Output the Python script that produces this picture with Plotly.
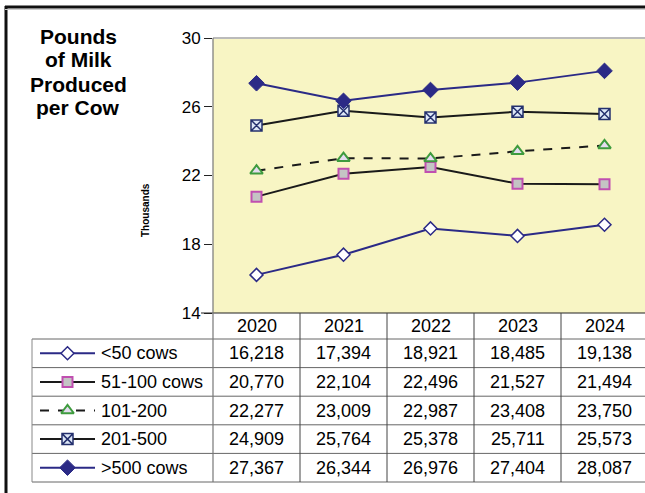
import plotly.graph_objects as go

years = ["2020", "2021", "2022", "2023", "2024"]
series_names = ["<50 cows", "51-100 cows", "101-200", "201-500", ">500 cows"]
lt50 = [16218, 17394, 18921, 18485, 19138]
c51_100 = [20770, 22104, 22496, 21527, 21494]
c101_200 = [22277, 23009, 22987, 23408, 23750]
c201_500 = [24909, 25764, 25378, 25711, 25573]
gt500 = [27367, 26344, 26976, 27404, 28087]
y_ticks = [14, 18, 22, 26, 30]

series_values = [lt50, c51_100, c101_200, c201_500, gt500]

W, H = 645, 493
def X(px):
    return px / W
def Y(py):
    return 1 - py / H

NAVY = "#2B2A86"
styles = [
    dict(line=dict(color=NAVY, width=2), marker=dict(symbol="diamond", size=10, color="white", line=dict(color=NAVY, width=1.5))),
    dict(line=dict(color="#1a1a1a", width=2), marker=dict(symbol="square", size=10, color="#C4C4C4", line=dict(color="#C04FB0", width=2))),
    dict(line=dict(color="#1a1a1a", width=2, dash="dash"), marker=dict(symbol="triangle-up", size=11, color="#E4DCF0", line=dict(color="#3E9B3E", width=2))),
    dict(line=dict(color="#1a1a1a", width=2), marker=dict(symbol="square-x", size=11, color="#DDE7F7", line=dict(color="#24306E", width=1.5))),
    dict(line=dict(color=NAVY, width=2), marker=dict(symbol="diamond", size=12, color=NAVY, line=dict(color=NAVY, width=1))),
]

fig = go.Figure()
xs = list(range(len(years)))
for name, vals, st in zip(series_names, series_values, styles):
    fig.add_trace(go.Scatter(x=xs, y=[v / 1000 for v in vals], mode="lines+markers", name=name,
                             line=st["line"], marker=st["marker"], cliponaxis=False, showlegend=False,
                             xaxis="x", yaxis="y"))

# legend samples inside the table's first column
for i, (name, st) in enumerate(zip(series_names, styles)):
    fig.add_trace(go.Scatter(x=[0, 2], y=[i, i], mode="lines", line=st["line"], showlegend=False,
                             xaxis="x2", yaxis="y2", cliponaxis=False))
    fig.add_trace(go.Scatter(x=[1], y=[i], mode="markers", marker=st["marker"], showlegend=False,
                             xaxis="x2", yaxis="y2", cliponaxis=False))

FONT = "Liberation Sans, Arial, sans-serif"
ann = []
for txt, py in zip(["Pounds", "of Milk", "Produced", "per Cow"], [36, 60, 84, 108]):
    ann.append(dict(text="<b>%s</b>" % txt, x=X(78), y=Y(py), xref="paper", yref="paper",
                    showarrow=False, font=dict(family=FONT, size=21, color="black"),
                    xanchor="center", yanchor="middle"))
ann.append(dict(text="<b>Thousands</b>", x=X(145), y=Y(210), xref="paper", yref="paper",
                showarrow=False, textangle=-90, font=dict(family=FONT, size=10, color="black"),
                xanchor="center", yanchor="middle"))

row_top, row_h = 339, 28.6
for j, yr in enumerate(years):
    ann.append(dict(text=yr, x=j, y=Y(326), xref="x", yref="paper", showarrow=False,
                    font=dict(family=FONT, size=18, color="black"), xanchor="center", yanchor="middle"))
for i, (name, vals) in enumerate(zip(series_names, series_values)):
    yc = Y(row_top + row_h * (i + 0.5))
    ann.append(dict(text=name, x=X(99), y=yc, xref="paper", yref="paper", showarrow=False,
                    font=dict(family=FONT, size=18, color="black"), xanchor="left", yanchor="middle"))
    for j, v in enumerate(vals):
        ann.append(dict(text=f"{v:,}", x=j, y=yc, xref="x", yref="paper", showarrow=False,
                        font=dict(family=FONT, size=18, color="black"), xanchor="center", yanchor="middle"))

shapes = []
shapes.append(dict(type="rect", xref="x domain", yref="y domain", x0=0, x1=1, y0=0, y1=1,
                   fillcolor="#F8F5C4", line=dict(width=0), layer="below"))
def hline(py, x0, x1, color, w=1):
    shapes.append(dict(type="line", xref="paper", yref="paper", x0=X(x0), x1=X(x1), y0=Y(py), y1=Y(py),
                       line=dict(color=color, width=w), layer="above"))
def vline(px, y0, y1, color, w=1):
    shapes.append(dict(type="line", xref="paper", yref="paper", x0=X(px), x1=X(px), y0=Y(y0), y1=Y(y1),
                       line=dict(color=color, width=w), layer="above"))

# outer frame
vline(6, 6, 493, "#111", 3)
hline(7, 5, 645, "#111", 3)
hline(9.5, 5, 645, "#CCCCCC", 1)
# plot area top border
hline(38, 213, 645, "#BBBBBB", 2)
# table grid
bottom = row_top + row_h * 5
hline(313, 201, 645, "#222", 1.2)
for k in range(6):
    hline(row_top + row_h * k, 32, 645, "#666", 1)
vline(32, row_top, bottom, "#888", 1)
vline(213, 38, bottom, "#777", 1.2)
for px in [300, 387, 474, 561]:
    vline(px, 313, bottom, "#444", 1)

fig.update_layout(
    width=W, height=H,
    margin=dict(l=0, r=0, t=0, b=0, pad=0, autoexpand=False),
    paper_bgcolor="white",
    plot_bgcolor="rgba(0,0,0,0)",
    showlegend=False,
    annotations=ann,
    shapes=shapes,
    xaxis=dict(domain=[X(213), 1], range=[-0.5, -0.5 + 432 / 87], showticklabels=False, showgrid=False,
               zeroline=False, showline=False, ticks="", automargin=False),
    yaxis=dict(domain=[Y(313), Y(38)], range=[14, 30], tickvals=y_ticks, ticks="outside", ticklen=8,
               tickcolor="#222", showgrid=False, zeroline=False, showline=False, automargin=False,
               tickfont=dict(family=FONT, size=17, color="black")),
    xaxis2=dict(domain=[X(40), X(95)], range=[0, 2], visible=False, anchor="y2", automargin=False),
    yaxis2=dict(domain=[Y(bottom), Y(row_top)], range=[4.5, -0.5], visible=False, anchor="x2", automargin=False),
)

fig.write_html("out.html", config={"displayModeBar": False},
               post_script="document.body.style.margin='0';document.body.style.overflow='hidden';")
